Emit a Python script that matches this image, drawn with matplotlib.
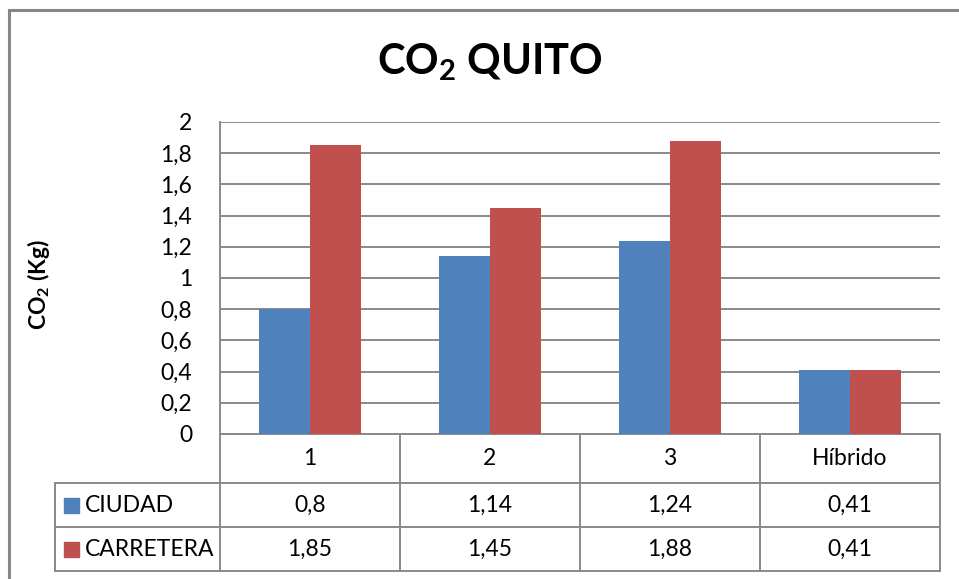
import numpy as np
import matplotlib.pyplot as plt

plt.rcParams['font.family'] = ['Lato', 'DejaVu Sans']
plt.rcParams['mathtext.fontset'] = 'custom'
plt.rcParams['mathtext.rm'] = 'Lato'
plt.rcParams['mathtext.bf'] = 'Lato:bold'

categories = ['1', '2', '3', 'Híbrido']
series = ['CIUDAD', 'CARRETERA']
ciudad = [0.8, 1.14, 1.24, 0.41]
carretera = [1.85, 1.45, 1.88, 0.41]
colors = ['#4F81BD', '#C0504D']
yticks = [0, 0.2, 0.4, 0.6, 0.8, 1, 1.2, 1.4, 1.6, 1.8, 2]

W, H = 959, 579
grey = '#898989'
fs = 16.5


def fmt(v):
    return ('%g' % v).replace('.', ',')


fig = plt.figure(figsize=(W / 100, H / 100), dpi=100)

# plot area in pixel units
left, right, top, bottom = 220, 940, 122, 434
ax = fig.add_axes([left / W, 1 - bottom / H, (right - left) / W, (bottom - top) / H])

x = np.arange(len(categories))
w = 0.285
ax.bar(x - w / 2, ciudad, w, color=colors[0], zorder=3)
ax.bar(x + w / 2, carretera, w, color=colors[1], zorder=3)

ax.set_xlim(-0.5, len(categories) - 0.5)
ax.set_ylim(0, 2)
ax.set_yticks(yticks)
ax.set_yticklabels([fmt(v) for v in yticks], fontsize=fs)
ax.set_xticks([])
ax.tick_params(axis='y', length=0, pad=20)
ax.grid(axis='y', color=grey, linewidth=1.4, zorder=0)
for s in ['top', 'right']:
    ax.spines[s].set_visible(False)
for s in ['left', 'bottom']:
    ax.spines[s].set_color(grey)
    ax.spines[s].set_linewidth(1.4)

# overlay in pixel coordinates for title, axis label, table and frame
ov = fig.add_axes([0, 0, 1, 1], zorder=-1)
ov.set_xlim(0, W)
ov.set_ylim(H, 0)
ov.axis('off')

ov.text(490, 62, r'CO$_\mathbf{2}$ QUITO', fontsize=30, fontweight='bold',
        ha='center', va='center')
ov.text(38, 285, r'CO$_\mathbf{2}$ (Kg)', fontsize=fs, fontweight='bold',
        rotation=90, ha='center', va='center')

# outer chart frame
ov.plot([9, 9, W + 5], [H + 5, 10, 10], color='#878787', lw=2.2,
        solid_joinstyle='miter')

# data table
cols = np.linspace(left, right, len(categories) + 1)
rows = [bottom, 483, 527, 571]
lw = 1.4
for cx in cols:
    ov.plot([cx, cx], [bottom, rows[-1]], color=grey, lw=lw)
ov.plot([55, 55], [rows[1], rows[-1]], color=grey, lw=lw)
for ry in rows[1:]:
    ov.plot([55, right], [ry, ry], color=grey, lw=lw)

for i, cat in enumerate(categories):
    cx = (cols[i] + cols[i + 1]) / 2
    ov.text(cx, (rows[0] + rows[1]) / 2, cat, fontsize=fs, ha='center', va='center')
    for j, vals in enumerate([ciudad, carretera]):
        cy = (rows[j + 1] + rows[j + 2]) / 2
        ov.text(cx, cy, fmt(vals[i]), fontsize=fs, ha='center', va='center')

for j, name in enumerate(series):
    cy = (rows[j + 1] + rows[j + 2]) / 2
    ov.add_patch(plt.Rectangle((64, cy - 7.5), 15, 15, color=colors[j]))
    ov.text(85, cy, name, fontsize=fs, ha='left', va='center')

fig.savefig('out.png', dpi=100)
